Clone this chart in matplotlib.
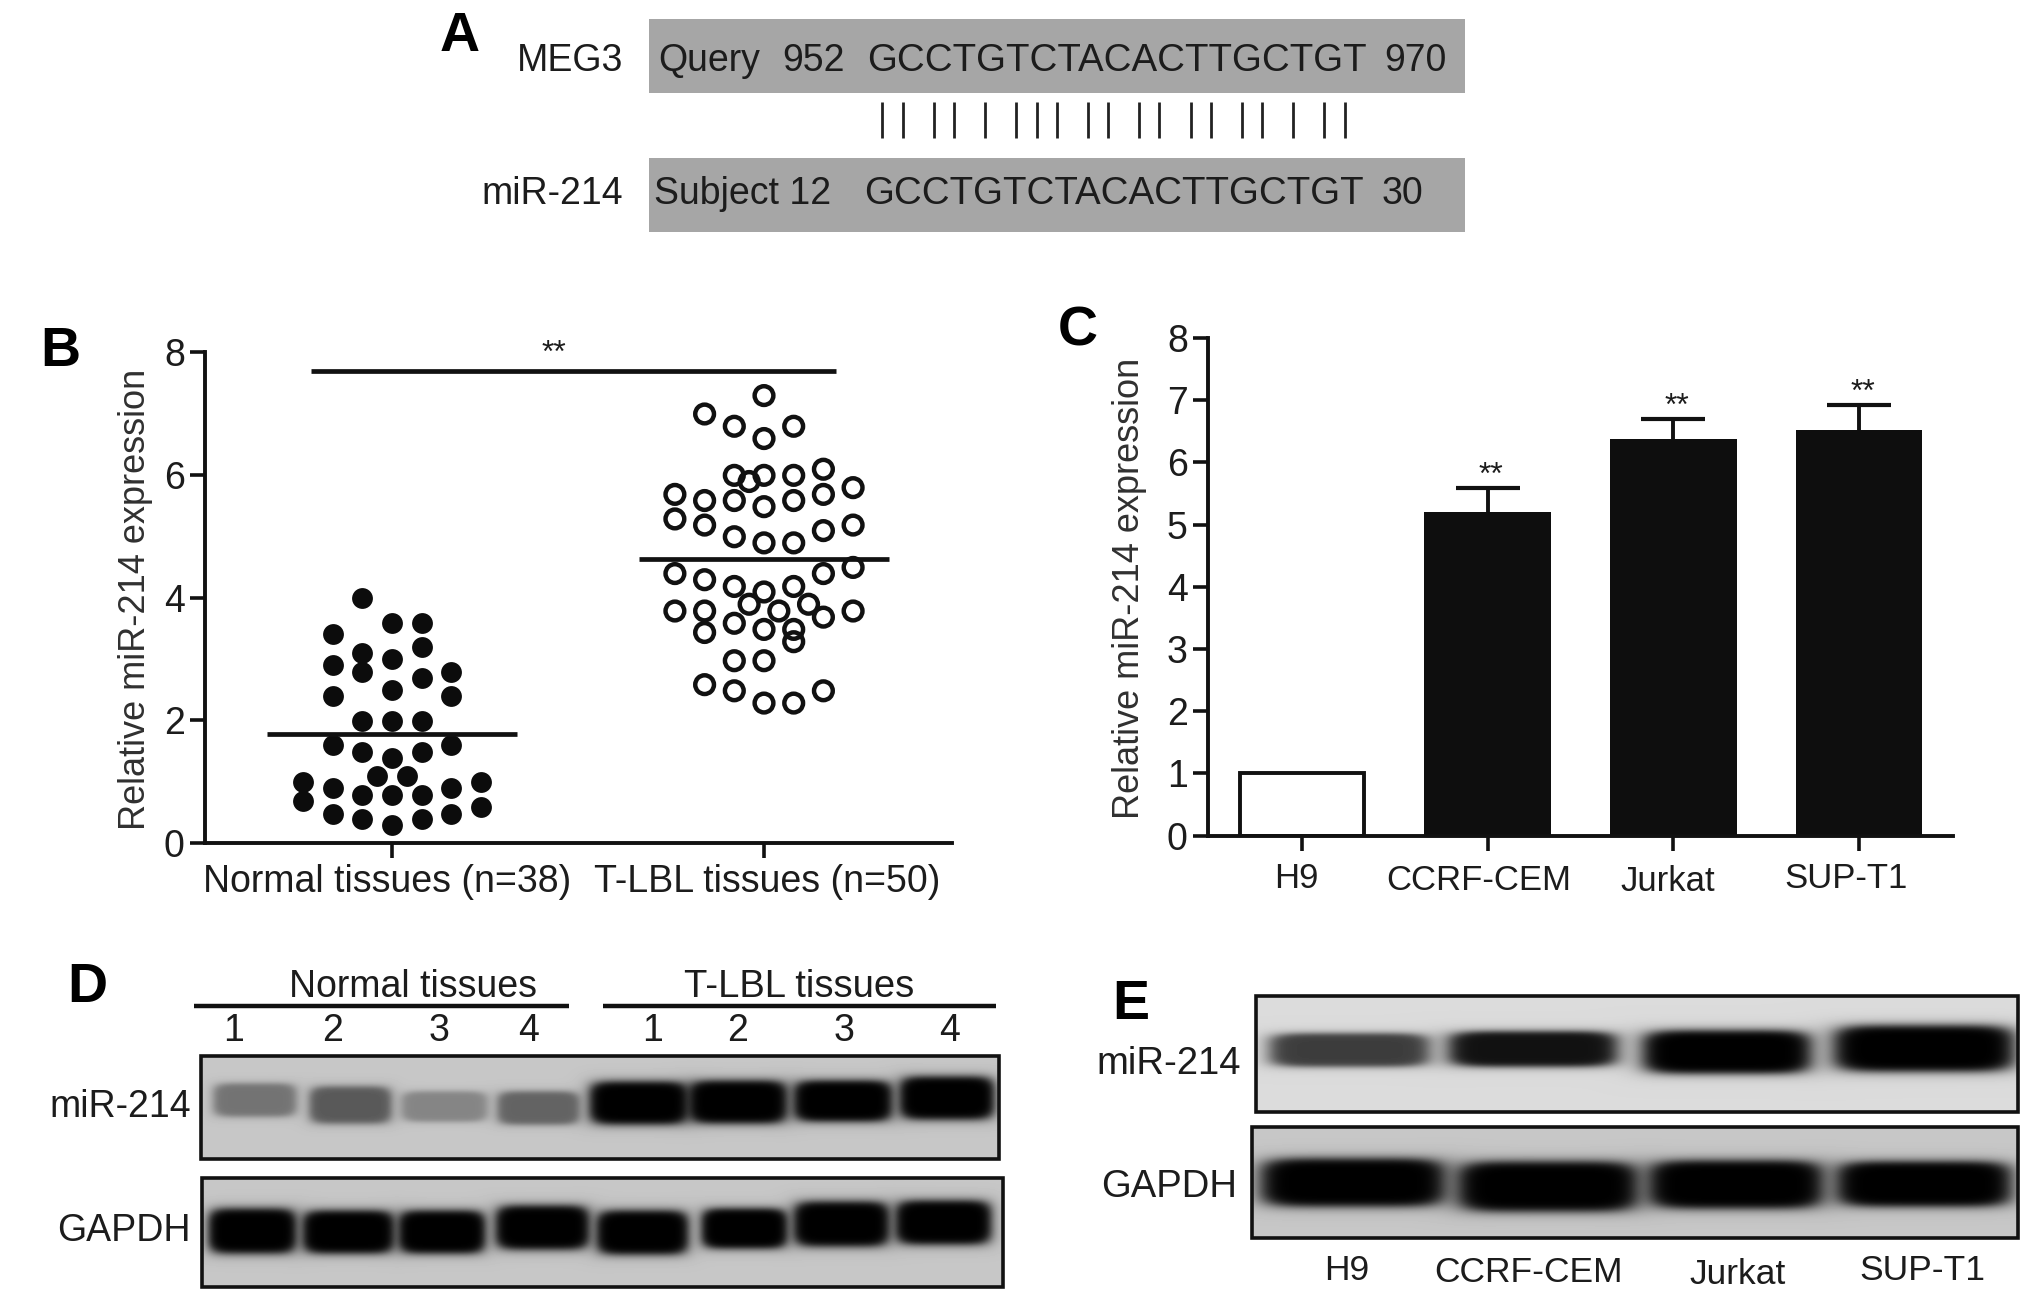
import numpy as np
import matplotlib
matplotlib.use("Agg")
import matplotlib.pyplot as plt
from matplotlib.patches import Rectangle
from matplotlib.transforms import ScaledTranslation

W, H = 2031, 1302
plt.rcParams["font.family"] = ["Liberation Sans", "DejaVu Sans"]
INK = "#1c1c1c"
GREY_INK = "#303030"

# panel A
seq = "GCCTGTCTACACTTGCTGT"
align_x = [882, 903, 934, 954, 985, 1016, 1037, 1057, 1088, 1108, 1139, 1159, 1191, 1211, 1242, 1262, 1293, 1324, 1345]

# panel B, slot = column of the dot plot (0 is the centre of the group)
normal_slot = [-3, -3, -2, -2, -2, -2, -2, -2, -1, -1, -1, -1, -1, -1, -1, -0.5,
               0, 0, 0, 0, 0, 0, 0, 0.5, 1, 1, 1, 1, 1, 1, 1, 2, 2, 2, 2, 2, 3, 3]
normal_val = [0.99, 0.68, 3.40, 2.90, 2.39, 1.60, 0.89, 0.48, 4.00, 3.10, 2.79, 1.99, 1.48, 0.79, 0.39, 1.09,
              3.59, 2.99, 2.49, 1.99, 1.39, 0.79, 0.29, 1.09, 3.59, 3.20, 2.69, 1.99, 1.48, 0.79, 0.39,
              2.79, 2.39, 1.60, 0.89, 0.48, 0.99, 0.59]
tumor_slot = [-3, -3, -3, -3, -2, -2, -2, -2, -2, -2, -2, -1, -1, -1, -1, -1, -1, -1, -1, -0.5, -0.5,
              0, 0, 0, 0, 0, 0, 0, 0, 0, 0.5, 1, 1, 1, 1, 1, 1, 1, 1, 1.5,
              2, 2, 2, 2, 2, 2, 3, 3, 3, 3]
tumor_val = [5.68, 5.28, 4.39, 3.78, 6.99, 5.58, 5.18, 4.29, 3.78, 3.43, 2.58,
             6.79, 5.99, 5.58, 4.99, 4.18, 3.58, 2.97, 2.48, 5.89, 3.89,
             7.29, 6.59, 5.99, 5.48, 4.89, 4.09, 3.48, 2.97, 2.28, 3.78,
             6.79, 5.99, 5.58, 4.89, 4.18, 3.48, 3.28, 2.28, 3.89,
             6.09, 5.68, 5.09, 4.39, 3.68, 2.48, 5.79, 5.18, 4.49, 3.78]
normal_mean = 1.77
tumor_mean = 4.62
signif_y = 7.69
b_labels = ["Normal tissues (n=38)", "T-LBL tissues (n=50)"]

# panel C
cells = ["H9", "CCRF-CEM", "Jurkat", "SUP-T1"]
cell_val = [1.0, 5.2, 6.37, 6.52]
cell_err = [0, 0.38, 0.33, 0.41]
cell_star_y = [5.78, 6.9, 7.12]

# panel D / E, band darkness per lane
d_tissue_nums = ["1", "2", "3", "4", "1", "2", "3", "4"]
d_mir_dark = [0.42, 0.55, 0.33, 0.50, 1, 1, 1, 1]
d_gapdh_dark = [1, 1, 1, 1, 1, 1, 1, 1]
e_mir_dark = [0.72, 0.92, 1, 1]
e_gapdh_dark = [1, 1, 1, 1]

d_mir_boxes = [(213, 297, 1083, 1117), (309, 392, 1086, 1124), (401, 488, 1091, 1122), (497, 580, 1091, 1125),
               (589, 689, 1081, 1125), (688, 788, 1080, 1124), (793, 893, 1080, 1122), (899, 995, 1076, 1120)]
d_gapdh_boxes = [(208, 297, 1208, 1254), (302, 395, 1210, 1254), (398, 486, 1210, 1254), (495, 590, 1205, 1250),
                 (596, 689, 1210, 1255), (701, 788, 1208, 1249), (793, 890, 1201, 1247), (895, 992, 1200, 1245)]
e_mir_boxes = [(1269, 1430, 1033, 1067), (1448, 1618, 1031, 1067), (1642, 1812, 1030, 1074), (1833, 2015, 1025, 1072)]
e_gapdh_boxes = [(1260, 1446, 1158, 1207), (1457, 1639, 1161, 1212), (1648, 1824, 1160, 1209), (1836, 2012, 1161, 1207)]


def ax_from_px(fig, left, top, right, bottom):
    return fig.add_axes([left / W, 1 - bottom / H, (right - left) / W, (bottom - top) / H])


def style_axes(ax):
    for s in ["top", "right"]:
        ax.spines[s].set_visible(False)
    for s in ["left", "bottom"]:
        ax.spines[s].set_linewidth(2.8)
        ax.spines[s].set_color("#111111")
    ax.tick_params(axis="both", width=2.6, length=11, color="#111111", labelcolor=INK, labelsize=27)
    ax.patch.set_alpha(0)


def draw_blot(ax, box, bg, band_boxes, darks):
    x0, x1, y0, y1 = box
    xs = np.arange(x0, x1) + 0.5
    ys = np.arange(y0, y1) + 0.5
    xx, yy = np.meshgrid(xs, ys)
    img = np.full(xx.shape, bg, dtype=float)
    for (bx0, bx1, by0, by1), d in zip(band_boxes, darks):
        # rounded blob instead of a hard rectangle
        rx = np.abs(xx - (bx0 + bx1) / 2) / ((bx1 - bx0) / 2)
        ry = np.abs(yy - (by0 + by1) / 2) / ((by1 - by0) / 2)
        r = rx ** 6 + ry ** 4
        img = img * (1 - d / (1 + r ** 2.4))
    ax.imshow(img, extent=(x0, x1, y1, y0), cmap="gray", vmin=0, vmax=1, aspect="auto", zorder=1, interpolation="bilinear")
    ax.add_patch(Rectangle((x0, y0), x1 - x0, y1 - y0, fill=False, ec="#111111", lw=2.6, zorder=2))


fig = plt.figure(figsize=(W / 100, H / 100), dpi=100, facecolor="white")

# overlay in pixel coordinates for the schematic parts
ov = fig.add_axes([0, 0, 1, 1])
ov.set_xlim(0, W)
ov.set_ylim(H, 0)
ov.axis("off")

# panel letters
for letter, x, y in [("A", 460, 37), ("B", 60, 352), ("C", 1078, 331), ("D", 87, 988), ("E", 1131, 1005)]:
    ov.text(x, y, letter, fontsize=40, fontweight="bold", color="black", ha="center", va="center")

# A
ov.add_patch(Rectangle((649, 19), 816, 74, fc="#a6a6a6", ec="none"))
ov.add_patch(Rectangle((649, 158), 816, 74, fc="#a6a6a6", ec="none"))
ov.text(623, 61, "MEG3", fontsize=27, ha="right", va="center", color=INK)
ov.text(623, 194, "miR-214", fontsize=27, ha="right", va="center", color=INK)
ov.text(658, 61, "Query", fontsize=27, va="center", color=INK)
ov.text(782, 61, "952", fontsize=27, va="center", color=INK)
ov.text(867, 61, seq, fontsize=27.7, va="center", color=INK)
ov.text(1384, 61, "970", fontsize=27, va="center", color=INK)
ov.text(654, 194, "Subject 12", fontsize=27, va="center", color=INK)
ov.text(864, 194, seq, fontsize=27.7, va="center", color=INK)
ov.text(1382, 194, "30", fontsize=27, va="center", color=INK)
ov.vlines(align_x, 102, 138, color="#222222", lw=2)

# B
ax_b = ax_from_px(fig, 205, 352, 952, 843)
slot_w = 29.7 / 372
ax_b.scatter(1 + np.array(normal_slot) * slot_w, normal_val, s=225, color="#0c0c0c", linewidths=0, zorder=3, clip_on=False)
ax_b.scatter(2 + np.array(tumor_slot) * slot_w, tumor_val, s=182, facecolors="none", edgecolors="#111111",
             linewidths=3.2, zorder=3, clip_on=False)
ax_b.hlines([normal_mean], 1 - 0.337, 1 + 0.337, color="#111111", lw=3.4, zorder=4)
ax_b.hlines([tumor_mean], 2 - 0.337, 2 + 0.337, color="#111111", lw=3.4, zorder=4)
ax_b.hlines([signif_y], 1 - 81 / 372, 2 + 72 / 372, color="#111111", lw=3.4, zorder=4)
ax_b.text(1.436, 7.97, "**", fontsize=23, ha="center", va="center", color=INK)
ax_b.set_xlim(1 - 187 / 372, 2 + 188 / 372)
ax_b.set_ylim(0, 8)
ax_b.set_yticks([0, 2, 4, 6, 8])
ax_b.set_xticks([1, 2])
ax_b.set_xticklabels(b_labels)
style_axes(ax_b)
ax_b.tick_params(axis="x", pad=4)
ax_b.set_ylabel("Relative miR-214 expression", fontsize=26, color=GREY_INK)
ax_b.yaxis.set_label_coords((153 - 205) / 747, (843 - 599) / 491)
for lbl, dx in zip(ax_b.get_xticklabels(), [-5, 3]):
    lbl.set_transform(lbl.get_transform() + ScaledTranslation(dx / 100, 0, fig.dpi_scale_trans))

# C
ax_c = ax_from_px(fig, 1208, 338, 1953, 835.5)
pos = np.arange(4)
ax_c.bar(pos[:1], cell_val[:1], width=0.67, color="white", edgecolor="#111111", linewidth=2.8, zorder=2)
ax_c.bar(pos[1:], cell_val[1:], width=0.68, color="#0e0e0e", linewidth=0, zorder=2)
# lower side hidden behind the bar, only the upper whisker shows
ax_c.errorbar(pos[1:], cell_val[1:], yerr=[[0.1, 0.1, 0.1], cell_err[1:]], fmt="none", ecolor="#111111",
              elinewidth=2.8, capsize=23, capthick=3, zorder=1)
for p, y in zip(pos[1:], cell_star_y):
    ax_c.text(p + 0.02, y, "**", fontsize=23, ha="center", va="center", color=INK)
ax_c.set_xlim(-94 / 186, 3 + 94 / 186)
ax_c.set_ylim(0, 8)
ax_c.set_yticks(range(9))
ax_c.set_xticks(pos)
ax_c.set_xticklabels(cells)
style_axes(ax_c)
ax_c.tick_params(axis="x", pad=10, labelsize=25)
ax_c.set_ylabel("Relative miR-214 expression", fontsize=26, color=GREY_INK)
ax_c.yaxis.set_label_coords((1147 - 1208) / 745, (835.5 - 588) / 497.5)
for lbl, dx, dy in zip(ax_c.get_xticklabels(), [-6, -9, -6, -13], [3, 1, 0, 3]):
    lbl.set_transform(lbl.get_transform() + ScaledTranslation(dx / 100, dy / 100, fig.dpi_scale_trans))

# D
draw_blot(ov, (201, 999, 1056, 1159), 0.78, d_mir_boxes, d_mir_dark)
draw_blot(ov, (202, 1003, 1178, 1287), 0.78, d_gapdh_boxes, d_gapdh_dark)
ov.text(413, 987, "Normal tissues", fontsize=27, ha="center", va="center", color=INK)
ov.text(799, 987, "T-LBL tissues", fontsize=27.5, ha="center", va="center", color=INK)
ov.hlines([1006, 1006], [194, 603], [569, 996], color="#111111", lw=3.2)
for x, n in zip([234, 333, 439, 529, 653, 738, 844, 950], d_tissue_nums):
    ov.text(x, 1031, n, fontsize=27, ha="center", va="center", color=INK)
ov.text(191, 1107, "miR-214", fontsize=27, ha="right", va="center", color=INK)
ov.text(191, 1231, "GAPDH", fontsize=27, ha="right", va="center", color=INK)

# E
draw_blot(ov, (1256, 2018, 996, 1112), 0.86, e_mir_boxes, e_mir_dark)
draw_blot(ov, (1252, 2018, 1127, 1238), 0.78, e_gapdh_boxes, e_gapdh_dark)
ov.text(1241, 1064, "miR-214", fontsize=27.5, ha="right", va="center", color=INK)
ov.text(1237, 1187, "GAPDH", fontsize=27.5, ha="right", va="center", color=INK)
for x, y, c in zip([1347, 1528, 1738, 1922], [1271, 1273, 1274, 1270], cells):
    ov.text(x, y, c, fontsize=25.5, ha="center", va="center", color=INK)

ov.set_xlim(0, W)
ov.set_ylim(H, 0)
fig.savefig("out.png", dpi=100)
